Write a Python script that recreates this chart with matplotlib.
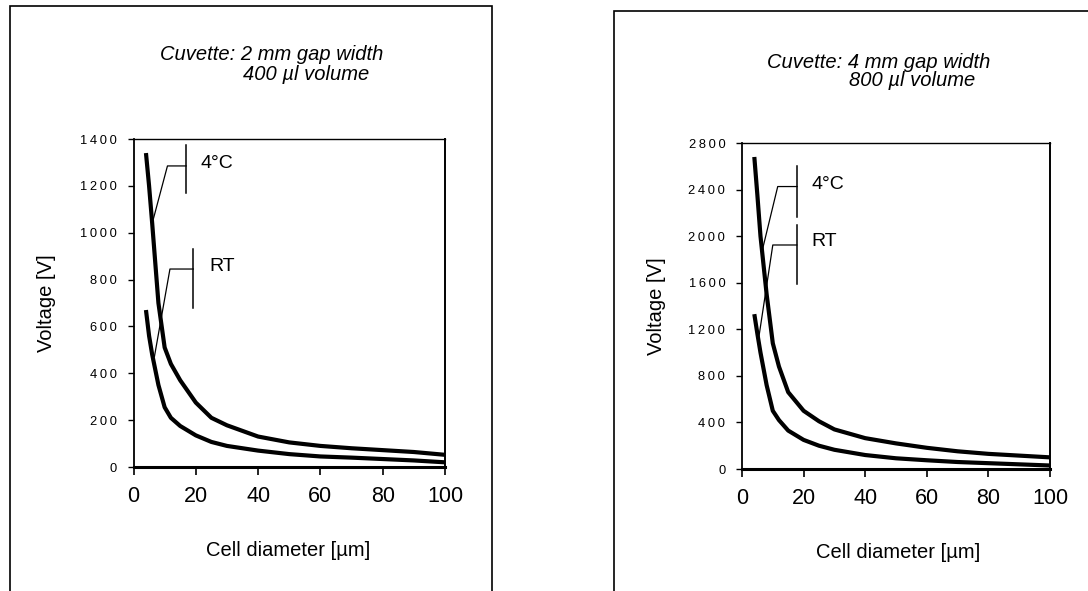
# -*- coding: utf-8 -*-
"""Electroporation voltage vs. cell diameter (2 mm / 4 mm cuvettes)"""

import matplotlib
matplotlib.use('Agg')
import matplotlib.pyplot as plt
from matplotlib.patches import Rectangle
from matplotlib.ticker import FuncFormatter

plt.rcParams['font.family'] = ['Liberation Sans', 'DejaVu Sans']

# ---- data ----
diam = [4, 5, 6, 8, 10, 12, 15, 20, 25, 30, 40, 50, 60, 70, 80, 90, 100]

# 2 mm gap, 400 ul
v2_cold = [1340, 1200, 1040, 700, 510, 440, 370, 275, 210, 178, 130, 105, 90, 80, 72, 64, 52]
v2_rt = [670, 560, 480, 350, 255, 210, 175, 135, 107, 90, 70, 55, 45, 40, 34, 28, 20]

# 4 mm gap, 800 ul
v4_cold = [2680, 2350, 2000, 1500, 1080, 880, 660, 500, 410, 340, 265, 220, 182, 152, 130, 115, 100]
v4_rt = [1330, 1160, 1000, 720, 500, 420, 330, 250, 200, 165, 120, 92, 75, 60, 50, 40, 30]

x_ticks = [0, 20, 40, 60, 80, 100]
y_ticks_2mm = [0, 200, 400, 600, 800, 1000, 1200, 1400]
y_ticks_4mm = [0, 400, 800, 1200, 1600, 2000, 2400, 2800]

# callout brackets: (vertical x, v_lo, v_hi), (elbow x, elbow v), (end x, end v), text pos
call_2mm = {
    '4°C': ((16.9, 1170, 1374), (10.9, 1285), (6.4, 1060), (21.5, 1297)),
    'RT': ((19.2, 679, 930), (11.7, 845), (6.7, 470), (24.3, 854)),
}
call_4mm = {
    '4°C': ((17.9, 2164, 2602), (11.6, 2426), (6.6, 1880), (22.5, 2442)),
    'RT': ((17.8, 1589, 2096), (10.0, 1924), (5.4, 1120), (22.5, 1958)),
}


def spaced(v, pos):
    # the scanned tick labels have loose letter spacing
    return '\u2009'.join(str(int(v)))


def draw_panel(ax, cold, rt, yticks, ymax, callouts):
    ax.plot(diam, cold, color='black', linewidth=3.0, solid_capstyle='butt')
    ax.plot(diam, rt, color='black', linewidth=3.0, solid_capstyle='butt')

    for label, (vert, elbow, end, tpos) in callouts.items():
        ax.plot([vert[0], vert[0]], [vert[1], vert[2]], color='black', linewidth=1.1)
        ax.plot([end[0], elbow[0], vert[0]], [end[1], elbow[1], elbow[1]],
                color='black', linewidth=0.9)
        ax.text(tpos[0], tpos[1], label, fontsize=14, va='center', ha='left')

    ax.set_xlim(0, 100)
    ax.set_ylim(0, ymax)
    ax.set_xticks(x_ticks)
    ax.set_yticks(yticks)
    ax.yaxis.set_major_formatter(FuncFormatter(spaced))
    ax.tick_params(axis='x', direction='out', length=6, width=1.2, labelsize=15.5, pad=8)
    ax.tick_params(axis='y', direction='out', length=4, width=1.0, labelsize=9.3, pad=8)

    ax.spines['left'].set_linewidth(1.3)
    ax.spines['bottom'].set_linewidth(2.2)
    ax.spines['top'].set_linewidth(1.0)
    ax.spines['right'].set_linewidth(1.4)

    ax.set_xlabel('Cell diameter [µm]', fontsize=14.5, va='center')
    ax.set_ylabel('Voltage [V]', fontsize=14.5, va='center')


def main():
    W, H = 1088, 591
    fig = plt.figure(figsize=(W / 100, H / 100), dpi=100, facecolor='white')

    def fx(px):
        return px / W

    def fy(py):
        return 1 - py / H

    # outer frames of the two scanned panels
    fig.patches.append(Rectangle((fx(10), fy(620)), fx(492 - 10), (620 - 5.5) / H,
                                 transform=fig.transFigure, fill=False,
                                 edgecolor='black', linewidth=1.2))
    fig.patches.append(Rectangle((fx(614), fy(620)), fx(1120 - 614), (620 - 10.5) / H,
                                 transform=fig.transFigure, fill=False,
                                 edgecolor='black', linewidth=1.2))

    ax1 = fig.add_axes([fx(133.5), fy(467), fx(311.5), (467 - 139) / H])
    draw_panel(ax1, v2_cold, v2_rt, y_ticks_2mm, 1400, call_2mm)
    ax1.xaxis.set_label_coords(0.495, (467 - 550) / 328)
    ax1.yaxis.set_label_coords((47 - 133.5) / 311.5, 0.5)

    ax2 = fig.add_axes([fx(742), fy(469), fx(308), (469 - 143) / H])
    draw_panel(ax2, v4_cold, v4_rt, y_ticks_4mm, 2800, call_4mm)
    ax2.xaxis.set_label_coords(0.506, (469 - 552) / 326)
    ax2.yaxis.set_label_coords((657 - 742) / 308, 0.5)

    # panel titles (two lines, second one indented)
    fig.text(fx(160), fy(55), 'Cuvette: 2 mm gap width', fontsize=14.5, style='italic',
             ha='left', va='center')
    fig.text(fx(243), fy(74), '400 µl volume', fontsize=14.5, style='italic',
             ha='left', va='center')
    fig.text(fx(767), fy(62), 'Cuvette: 4 mm gap width', fontsize=14.5, style='italic',
             ha='left', va='center')
    fig.text(fx(849), fy(81), '800 µl volume', fontsize=14.5, style='italic',
             ha='left', va='center')

    fig.savefig('out.png', dpi=100, facecolor='white')
    plt.close(fig)


if __name__ == '__main__':
    main()
